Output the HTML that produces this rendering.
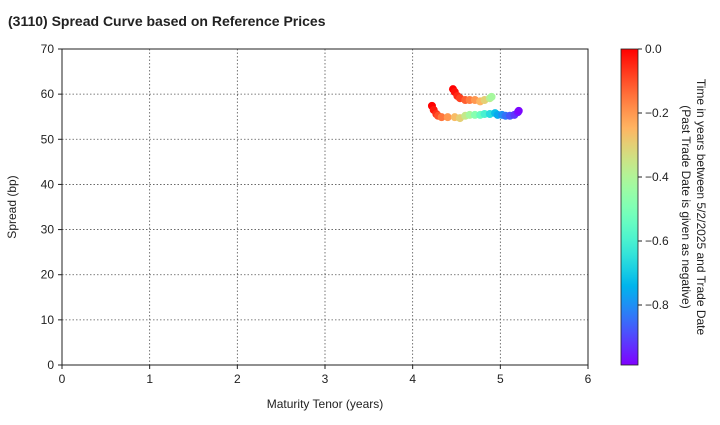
<!DOCTYPE html>
<html><head><meta charset="utf-8"><style>
body{margin:0;background:#fff;font-family:"Liberation Sans",Arial,sans-serif}
svg text{font-family:"Liberation Sans",Arial,sans-serif;fill:#222}
</style></head><body>
<svg id="c" width="720" height="420" viewBox="0 0 720 420" xmlns="http://www.w3.org/2000/svg">
<defs><linearGradient id="cb" x1="0" y1="1" x2="0" y2="0"></linearGradient></defs>
<text x="8" y="26" font-size="14" font-weight="bold">(3110)   Spread Curve based on Reference Prices</text>
<g id="grid"></g><g id="axes"></g><g id="pts"></g><g id="cbar"></g>
<text x="325" y="408" font-size="12" text-anchor="middle">Maturity Tenor (years)</text>
<text transform="translate(16,207) rotate(-90)" font-size="12" text-anchor="middle">Spread (bp)</text>
<text transform="translate(697,207) rotate(90)" font-size="12" text-anchor="middle"><tspan x="0" dy="0">Time in years between 5/2/2025 and Trade Date</tspan><tspan x="0" dy="15">(Past Trade Date is given as negative)</tspan></text>
</svg>
<script>
const xTicks=[0,1,2,3,4,5,6];
const yTicks=[0,10,20,30,40,50,60,70];
const cTicks=[0,-0.2,-0.4,-0.6,-0.8];
const upperX=[4.46,4.48,4.51,4.54,4.60,4.65,4.71,4.77,4.82,4.88,4.90];
const upperY=[61.1,60.5,59.6,59.1,58.7,58.7,58.7,58.4,58.7,59.1,59.4];
const upperT=[0,-0.02,-0.05,-0.08,-0.12,-0.16,-0.2,-0.25,-0.3,-0.38,-0.42];
const lowerX=[4.22,4.24,4.27,4.29,4.33,4.40,4.48,4.54,4.60,4.65,4.71,4.77,4.82,4.88,4.94,4.97,5.02,5.06,5.11,5.16,5.20,5.21];
const lowerY=[57.4,56.5,55.6,55.2,54.9,54.9,54.9,54.7,55.2,55.4,55.4,55.4,55.6,55.6,55.8,55.4,55.4,55.2,55.2,55.4,56.0,56.3];
const lowerT=[0,-0.03,-0.06,-0.1,-0.15,-0.2,-0.26,-0.3,-0.36,-0.42,-0.48,-0.54,-0.6,-0.66,-0.72,-0.76,-0.8,-0.84,-0.88,-0.92,-0.96,-0.98];
const X0=62,X1=588,Y0=365,Y1=49,CMIN=-0.9875;
const sx=v=>X0+(v-0)/6*(X1-X0), sy=v=>Y0-(v/70)*(Y0-Y1);
const ns='http://www.w3.org/2000/svg';
function mk(t,a,p){const e=document.createElementNS(ns,t);for(const k in a)e.setAttribute(k,a[k]);p.appendChild(e);return e;}
function rb(t){const v=(t-CMIN)/(0-CMIN);const r=Math.min(1,Math.abs(2*v-0.5)),g=Math.sin(v*Math.PI),b=Math.cos(v*Math.PI/2);return `rgb(${Math.round(r*255)},${Math.round(g*255)},${Math.round(Math.max(0,b)*255)})`;}
const grid=document.getElementById('grid'),axes=document.getElementById('axes'),pts=document.getElementById('pts'),cb=document.getElementById('cbar');
xTicks.forEach(v=>{const x=sx(v);
 if(v>0&&v<6){const l=mk('line',{x1:x,x2:x,y1:Y1,y2:Y0,stroke:'#555','stroke-dasharray':'1.5,2','stroke-width':0.8},grid);}
 mk('line',{x1:x,x2:x,y1:Y0,y2:Y0+4,stroke:'#222'},axes);
 const t=mk('text',{x:x,y:Y0+18,'font-size':12,'text-anchor':'middle'},axes);t.textContent=v;
 });
yTicks.forEach(v=>{const y=sy(v);
 if(v>0&&v<70){const l=mk('line',{x1:X0,x2:X1,y1:y,y2:y,stroke:'#555','stroke-dasharray':'1.5,2','stroke-width':0.8},grid);}
 mk('line',{x1:X0-4,x2:X0,y1:y,y2:y,stroke:'#222'},axes);
 const t=mk('text',{x:X0-8,y:y+4,'font-size':12,'text-anchor':'end'},axes);t.textContent=v;
 });
const fr=mk('rect',{x:X0,y:Y1,width:X1-X0,height:Y0-Y1,fill:'none',stroke:'#222','stroke-width':1},axes);

function series(xs,ys,ts,name){xs.forEach((x,i)=>{const c=mk('circle',{cx:sx(x),cy:sy(ys[i]),r:4,fill:rb(ts[i])},pts);
 });}
series(lowerX,lowerY,lowerT,'lower-curve-point');
series(upperX,upperY,upperT,'upper-curve-point');
const CX=621,CW=17;
const g=document.getElementById('cb');
for(let i=0;i<=20;i++){const t=CMIN+(0-CMIN)*i/20;mk('stop',{offset:(i/20),'stop-color':rb(t)},g);}
const bar=mk('rect',{x:CX,y:Y1,width:CW,height:Y0-Y1,fill:'url(#cb)',stroke:'#222','stroke-width':0.8},cb);

const cy=v=>Y0-(v-CMIN)/(0-CMIN)*(Y0-Y1);
cTicks.forEach(v=>{const y=cy(v);mk('line',{x1:CX+CW,x2:CX+CW+4,y1:y,y2:y,stroke:'#222'},cb);
 const t=mk('text',{x:CX+CW+7,y:y+4,'font-size':12},cb);t.textContent=v===0?'0.0':'\u2212'+Math.abs(v).toFixed(1);
 });
</script>
</body></html>
